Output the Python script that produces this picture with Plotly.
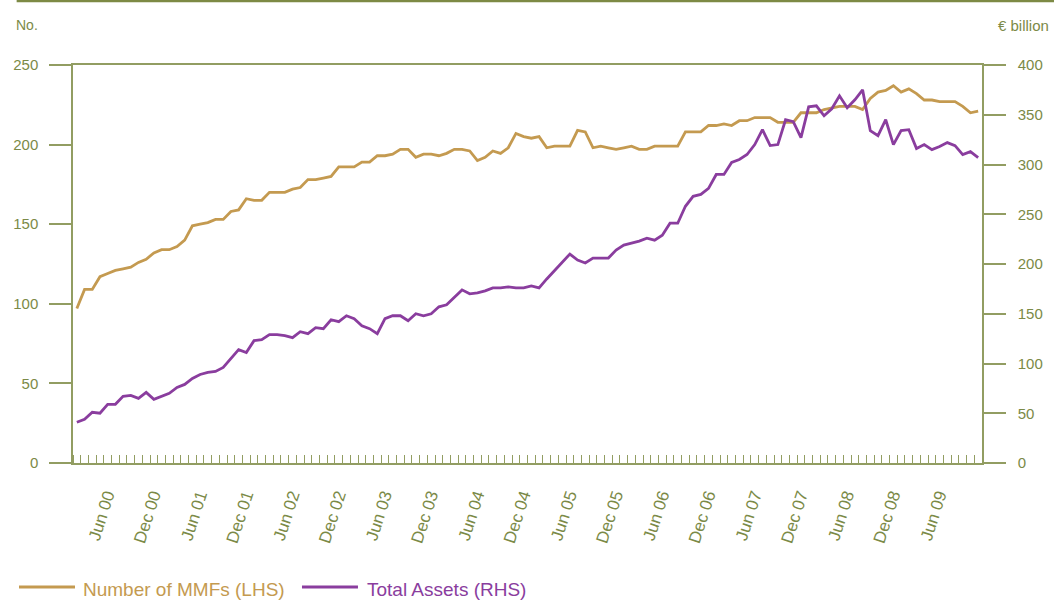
import plotly.graph_objects as go

# ---------------- data ----------------
years = list(range(2000, 2010))
month_names = ["Jan", "Feb", "Mar", "Apr", "May", "Jun", "Jul", "Aug", "Sep", "Oct", "Nov", "Dec"]
months = [f"{m} {y % 100:02d}" for y in years for m in month_names][:118]  # Jan 00 .. Oct 09

mmf_count = [
    97, 109, 109, 117, 119, 121, 122, 123, 126, 128, 132, 134, 134, 136, 140, 149, 150, 151, 153, 153, 158, 159, 166, 165,
    165, 170, 170, 170, 172, 173, 178, 178, 179, 180, 186, 186, 186, 189, 189, 193, 193, 194, 197, 197, 192, 194, 194, 193,
    194.5, 197, 197, 196, 190, 192, 196, 194.5, 198, 207, 205, 204, 205, 198, 199, 199, 199, 209, 208, 198, 199, 198, 197,
    198, 199, 197, 197, 199, 199, 199, 199, 208, 208, 208, 212, 212, 213, 212, 215, 215, 217, 217, 217, 214, 214, 214, 220,
    220, 220, 222, 223, 224, 224, 224, 222, 229, 233, 234, 237, 233, 235, 232, 228, 228, 227, 227, 227, 224, 220, 221,
]
total_assets = [
    41, 44, 51, 50, 59, 59, 67, 68, 65, 71, 64, 67, 70, 76, 79, 85, 89, 91, 92, 96, 105, 114, 111, 123,
    124, 129, 129, 128, 126, 132, 130, 136, 135, 144, 142, 148, 145, 138, 135, 130, 145, 148, 148, 143, 150, 148, 150, 157,
    159, 166, 174, 170, 171, 173, 176, 176, 177, 176, 176, 178, 176, 185, 193, 202, 210, 204, 201, 206, 206, 206, 214,
    219, 221, 223, 226, 224, 229, 241, 241, 258, 268, 270, 276, 290, 290, 302, 305, 310, 320, 335, 319, 320, 345, 343, 327,
    358, 359, 349, 356, 369, 357, 365, 375, 334, 329, 345, 320, 334, 335, 316, 320, 315, 318, 322, 319, 310, 313, 307,
]
tick_labels = ["Jun 00", "Dec 00", "Jun 01", "Dec 01", "Jun 02", "Dec 02", "Jun 03", "Dec 03", "Jun 04", "Dec 04",
               "Jun 05", "Dec 05", "Jun 06", "Dec 06", "Jun 07", "Dec 07", "Jun 08", "Dec 08", "Jun 09"]
left_ticks = [0, 50, 100, 150, 200, 250]
right_ticks = [0, 50, 100, 150, 200, 250, 300, 350, 400]
series_names = ["Number of MMFs (LHS)", "Total Assets (RHS)"]

# ---------------- style ----------------
GOLD = "#c49a50"
PURPLE = "#8a3d9e"
AXIS = "#929d62"
TEXT = "#7b8a47"
FONT = "Liberation Sans, Arial, sans-serif"
LABEL_SHIFT = -1.1  # rotated labels sit slightly left of their month

idx = list(range(len(months)))
tick_pos = [months.index(t) + LABEL_SHIFT for t in tick_labels]

fig = go.Figure()
fig.add_trace(go.Scatter(
    x=idx, y=mmf_count, mode="lines", yaxis="y", name=series_names[0],
    line=dict(color=GOLD, width=2.8),
))
fig.add_trace(go.Scatter(
    x=idx, y=total_assets, mode="lines", yaxis="y2", name=series_names[1],
    line=dict(color=PURPLE, width=2.8),
))

# manual legend (shapes + text) so that it does not push the margins
legend_items = [
    (series_names[0], GOLD, -0.0594, 0.0022, 0.0088),
    (series_names[1], PURPLE, 0.2519, 0.3135, 0.3212),
]
shapes = [
    dict(type="line", xref="paper", yref="paper", x0=-0.062, x1=1.1, y0=1.1605, y1=1.1605,
         line=dict(color="#7d8a45", width=2.5)),
]
annotations = [
    dict(text="No.", xref="paper", yref="paper", x=-0.0649, y=1.1005, xanchor="left", yanchor="middle",
         showarrow=False, font=dict(size=14, color=TEXT)),
    dict(text="€ billion", xref="paper", yref="paper", x=1.0759, y=1.1005, xanchor="right", yanchor="middle",
         showarrow=False, font=dict(size=15, color=TEXT)),
]
for name, col, lx0, lx1, tx in legend_items:
    shapes.append(dict(type="line", xref="paper", yref="paper", x0=lx0, x1=lx1, y0=-0.3116, y1=-0.3116,
                       line=dict(color=col, width=3)))
    annotations.append(dict(text=name, xref="paper", yref="paper", x=tx, y=-0.3166, xanchor="left",
                            yanchor="middle", showarrow=False, font=dict(size=19, color=col)))

fig.update_layout(
    width=1054, height=601,
    margin=dict(l=73, r=72, t=65, b=138),
    paper_bgcolor="white", plot_bgcolor="white",
    font=dict(family=FONT, color=TEXT, size=15),
    showlegend=False,
    xaxis=dict(
        range=[-0.5, len(months) - 0.5], tickmode="array", tickvals=tick_pos, ticktext=tick_labels,
        tickangle=-72, ticks="", showgrid=False, zeroline=False, automargin=False,
        showline=True, linecolor=AXIS, linewidth=1.5, mirror=True,
        tickfont=dict(size=17, color=TEXT), ticklabelstandoff=14,
        minor=dict(tickmode="linear", tick0=-0.5, dtick=1, ticks="inside", ticklen=8,
                   tickcolor=AXIS, tickwidth=1, showgrid=False),
    ),
    yaxis=dict(
        range=[0, 250], tickmode="array", tickvals=left_ticks, ticks="outside", ticklen=22,
        tickcolor=AXIS, tickwidth=1.5, showgrid=False, zeroline=False, automargin=False,
        showline=True, linecolor=AXIS, linewidth=1.5,
        tickfont=dict(size=15, color=TEXT), ticklabelstandoff=8,
    ),
    yaxis2=dict(
        range=[0, 400], tickmode="array", tickvals=right_ticks, ticks="outside", ticklen=22,
        tickcolor=AXIS, tickwidth=1.5, showgrid=False, zeroline=False, automargin=False,
        showline=True, linecolor=AXIS, linewidth=1.5,
        overlaying="y", side="right",
        tickfont=dict(size=15, color=TEXT), ticklabelstandoff=9,
    ),
    annotations=annotations,
    shapes=shapes,
)

fig.write_html("out.html", config={"displayModeBar": False},
               post_script="document.body.style.margin='0px';")
